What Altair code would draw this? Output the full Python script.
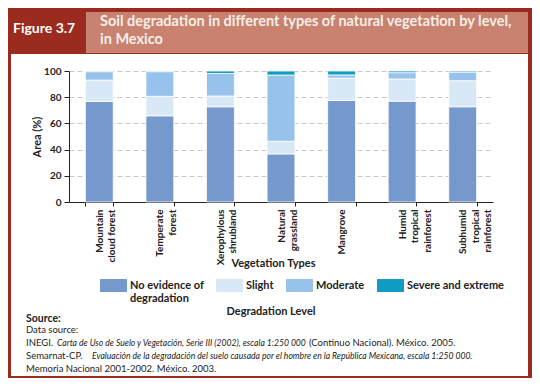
import altair as alt
import pandas as pd

# ---------------- data ----------------
vegetation = ["Mountain cloud forest", "Temperate forest", "Xerophylous shrubland",
              "Natural grassland", "Mangrove", "Humid tropical rainforest",
              "Subhumid tropical rainforest"]
vegetation_lines = [["Mountain", "cloud forest"], ["Temperate", "forest"],
                    ["Xerophylous", "shrubland"], ["Natural", "grassland"],
                    ["Mangrove"], ["Humid", "tropical", "rainforest"],
                    ["Subhumid", "tropical", "rainforest"]]
levels = ["No evidence of degradation", "Slight", "Moderate", "Severe and extreme"]
no_evidence = [76.8, 65.8, 72.7, 36.7, 77.6, 77.0, 72.7]
slight = [16.2, 14.9, 8.2, 9.7, 16.9, 16.9, 19.9]
moderate = [6.5, 18.8, 17.2, 50.5, 2.5, 4.8, 6.6]
severe = [0.5, 0.5, 1.9, 3.1, 3.0, 1.3, 0.8]
colors = ["#7598cd", "#d9e8f6", "#97c2eb", "#109cc0"]

source_lines = ["Data source:"]
inegi_parts = ["INEGI. ", "Carta de Uso de Suelo y Vegetación, Serie III (2002), escala 1:250 000",
               "(Continuo Nacional). México. 2005."]
semarnat_parts = ["Semarnat-CP. ",
                  "Evaluación de la degradación del suelo causada por el hombre en la República Mexicana, escala 1:250 000."]
memoria_line = "Memoria Nacional 2001-2002. México. 2003."

rows = []
for i, v in enumerate(vegetation):
    for j, (lvl, vals) in enumerate(zip(levels, [no_evidence, slight, moderate, severe])):
        rows.append({"veg": v, "level": lvl, "value": vals[i], "order": j})
df = pd.DataFrame(rows)

FONT = "Lato"
DARK = "#9b2a1f"
SALMON = "#c8826f"
INK = "#222222"

# label expression for multi-line x labels
expr = "datum.label"
for v, lines in reversed(list(zip(vegetation, vegetation_lines))):
    arr = "[" + ",".join("'" + s + "'" for s in lines) + "]"
    expr = f"datum.label == '{v}' ? {arr} : ({expr})"

leg_expr = "datum.label == 'No evidence of degradation' ? 'No evidence of' : datum.label"

bars = alt.Chart(df).mark_bar(stroke="white", strokeWidth=0.8).encode(
    x=alt.X("veg:N", sort=vegetation,
            scale=alt.Scale(paddingInner=0.54, paddingOuter=0.27),
            axis=alt.Axis(title="Vegetation Types", labelAngle=270, labelAlign="right",
                          labelBaseline="middle", labelPadding=3, labelFontSize=10,
                          labelFontWeight="bold", labelLineHeight=12.5, labelColor=INK,
                          labelExpr=expr, tickBand="extent", tickSize=4, tickColor=INK,
                          domainColor=INK, titleX=204, titleY=61, titleBaseline="middle",
                          titleFontSize=11, titleFontWeight="bold", titleColor=INK,
                          grid=False)),
    y=alt.Y("value:Q", stack="zero",
            scale=alt.Scale(domain=[0, 100], nice=False),
            axis=alt.Axis(title="Area (%)", values=[0, 20, 40, 60, 80, 100], tickSize=5,
                          labelPadding=3, labelFontSize=10, labelFontWeight="bold",
                          labelColor=INK, tickColor=INK, domainColor=INK,
                          grid=True, gridDash=[5, 3], gridColor="#c8c8c8",
                          titleX=-32, titleY=65.5, titleAngle=270, titleAlign="center",
                          titleBaseline="middle", titleFontSize=11, titleFontWeight="bold",
                          titleColor=INK)),
    color=alt.Color("level:N", scale=alt.Scale(domain=levels, range=colors),
                    legend=alt.Legend(title=None, orient="none", legendX=31, legendY=201,
                                      direction="horizontal", columns=4, columnPadding=12,
                                      symbolType="M-1,-0.48H1V0.48H-1Z", symbolSize=729,
                                      symbolStrokeWidth=0, labelFontSize=11,
                                      labelFontWeight="bold", labelOffset=3,
                                      labelBaseline="middle", labelExpr=leg_expr,
                                      labelColor=INK, labelLimit=200)),
    order=alt.Order("order:Q"),
)

one = pd.DataFrame({"a": [0]})


def rect(x, x2, y, y2, color):
    return alt.Chart(one).mark_rect(color=color).encode(
        x=alt.value(x), x2=alt.value(x2), y=alt.value(y), y2=alt.value(y2))


def text(s, x, y, size=10, weight="normal", style="normal", color=INK,
         font=FONT, align="left"):
    return alt.Chart(one).mark_text(text=s, fontSize=size, fontWeight=weight,
                                    fontStyle=style, color=color, font=font,
                                    align=align, baseline="middle").encode(
        x=alt.value(x), y=alt.value(y))


decor = [
    rect(-61, 463, -63, -17, DARK),
    rect(17, 459, -59, -18, SALMON),
    rect(-61, -58, -17, 307, DARK),
    rect(459, 463, -17, 307, DARK),
    rect(-61, 463, 305, 307, DARK),
    text("Figure 3.7", -56, -42, size=14, weight="bold", color="white"),
    text("Soil degradation in different types of natural vegetation by level,", 31, -49,
         size=14.5, weight="bold", color="#f7efe8"),
    text("in Mexico", 31, -31, size=14.5, weight="bold", color="#f7efe8"),
    text("degradation", 61, 228, size=11, weight="bold"),
    text("Degradation Level", 202, 241, size=11, weight="bold", align="center"),
    text("Source:", -43, 248, size=10.5, weight="bold"),
    text(source_lines[0], -43, 259, size=9.5),
    text(inegi_parts[0], -43, 271.5, size=9.5),
    text(inegi_parts[1], -12, 271.5, size=8.6, style="italic"),
    text(inegi_parts[2], 240, 271.5, size=9.5),
    text(semarnat_parts[0], -43, 284.5, size=9.5),
    text(semarnat_parts[1], 23, 284.5, size=8.6, style="italic"),
    text(memoria_line, -43, 297.5, size=9.5),
]

chart = alt.layer(*decor, bars).properties(
    width=424, height=131, autosize="none",
    padding={"left": 61, "top": 63, "right": 39, "bottom": 176},
    background="white",
).configure(font=FONT).configure_view(strokeWidth=0)

chart.save("out.html", embed_options={"renderer": "svg", "actions": False})
